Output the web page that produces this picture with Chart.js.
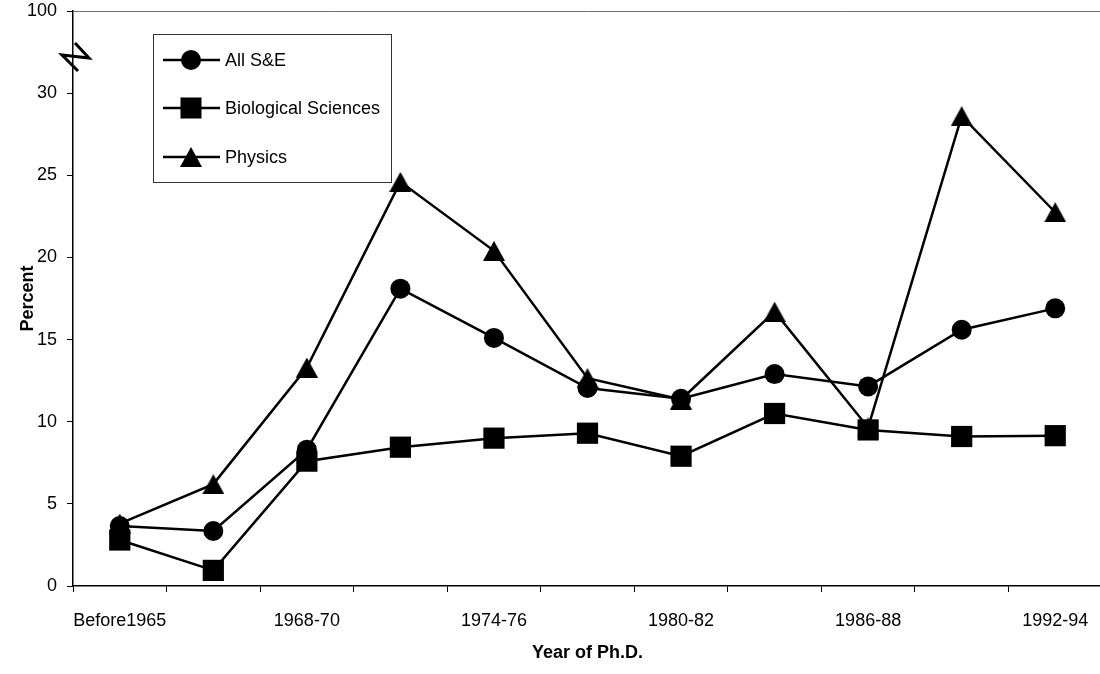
<!DOCTYPE html>
<html>
<head>
<meta charset="utf-8">
<title>Percent by Year of Ph.D.</title>
<script src="https://cdn.jsdelivr.net/npm/chart.js@4.4.0/dist/chart.umd.min.js"></script>
<style>
  html, body { margin: 0; padding: 0; overflow: hidden; background: #fff; }
  /* plot runs a little past the right edge, like the cropped original */
  #wrap { position: relative; width: 1117px; height: 678px; margin-top: -4px; }
</style>
</head>
<body>
<div id="wrap"><canvas id="phdChart"></canvas></div>
<script>
// categories
const years = ["Before1965", "1965-67", "1968-70", "1971-73", "1974-76", "1977-79",
  "1980-82", "1983-85", "1986-88", "1989-91", "1992-94"];

// series values (percent)
const allSE   = [3.65, 3.35, 8.3, 18.1, 15.1, 12.05, 11.4, 12.9, 12.15, 15.6, 16.9];
const bioSci  = [2.8, 0.95, 7.6, 8.45, 9.0, 9.3, 7.9, 10.5, 9.5, 9.1, 9.15];
const physics = [3.8, 6.2, 13.3, 24.6, 20.4, 12.65, 11.35, 16.7, 9.65, 28.6, 22.75];

// y ticks: the axis is broken above 30, the last step stands for 100
const yTicks = [0, 5, 10, 15, 20, 25, 30, 35];
const yTickLabels = ["0", "5", "10", "15", "20", "25", "30", "100"];

const FONT = '"Liberation Sans", Arial, Helvetica, sans-serif';
Chart.defaults.font.family = FONT;
Chart.defaults.font.size = 18;
Chart.defaults.color = "#000";

// triangle marker centred on its box (Excel style)
function makeTriangle(w, h) {
  const c = document.createElement("canvas");
  c.width = w;
  c.height = h;
  const g = c.getContext("2d");
  g.fillStyle = "#000";
  g.beginPath();
  g.moveTo(w / 2, 0);
  g.lineTo(w, h);
  g.lineTo(0, h);
  g.closePath();
  g.fill();
  return c;
}
const triangle = makeTriangle(22, 20);

function drawMarker(ctx, style, x, y) {
  ctx.fillStyle = "#000";
  if (style === "circle") {
    ctx.beginPath();
    ctx.arc(x, y, 10, 0, Math.PI * 2);
    ctx.fill();
  } else if (style === "rect") {
    ctx.fillRect(x - 10.5, y - 10.5, 21, 21);
  } else {
    ctx.drawImage(style, x - style.width / 2, y - style.height / 2);
  }
}

// legend box inside the plot + axis break + top frame line
const decorations = {
  id: "decorations",
  afterDraw(chart) {
    const ctx = chart.ctx;
    const area = chart.chartArea;
    const t = area.top; // legend and break are placed from the plot top
    ctx.save();

    // top frame line
    ctx.strokeStyle = "#6e6e6e";
    ctx.lineWidth = 1;
    ctx.beginPath();
    ctx.moveTo(area.left, t + 0.5);
    ctx.lineTo(area.right, t + 0.5);
    ctx.stroke();

    // axis break symbol
    ctx.strokeStyle = "#000";
    ctx.lineWidth = 3;
    ctx.lineJoin = "miter";
    ctx.beginPath();
    ctx.moveTo(area.left + 2, t + 32);
    ctx.lineTo(area.left + 16, t + 47);
    ctx.lineTo(area.left - 11, t + 44);
    ctx.lineTo(area.left + 5, t + 60);
    ctx.stroke();

    // legend
    const box = { x: 153.5, y: t + 23.5, w: 238, h: 148 };
    const rows = [t + 49, t + 97, t + 146];
    ctx.fillStyle = "#fff";
    ctx.fillRect(box.x, box.y, box.w, box.h);
    ctx.strokeStyle = "#333";
    ctx.lineWidth = 1;
    ctx.strokeRect(box.x, box.y, box.w, box.h);
    chart.data.datasets.forEach((ds, i) => {
      const y = rows[i];
      ctx.strokeStyle = "#000";
      ctx.lineWidth = 2.5;
      ctx.beginPath();
      ctx.moveTo(163, y);
      ctx.lineTo(220, y);
      ctx.stroke();
      drawMarker(ctx, ds.pointStyle, 191, y);
      ctx.fillStyle = "#000";
      ctx.font = "18px " + FONT;
      ctx.textBaseline = "middle";
      ctx.textAlign = "left";
      ctx.fillText(ds.label, 225, y + 1);
    });
    ctx.restore();
  },
};

const ctx = document.getElementById("phdChart").getContext("2d");
const phdChart = new Chart(ctx, {
  type: "line",
  data: {
    labels: years,
    datasets: [
      {
        label: "All S&E",
        data: allSE,
        borderColor: "#000",
        backgroundColor: "#000",
        borderWidth: 2.5,
        pointStyle: "circle",
        pointRadius: 10,
        pointHoverRadius: 10,
        pointBorderWidth: 0,
      },
      {
        label: "Biological Sciences",
        data: bioSci,
        borderColor: "#000",
        backgroundColor: "#000",
        borderWidth: 2.5,
        pointStyle: "rect",
        pointRadius: 15,
        pointHoverRadius: 15,
        pointBorderWidth: 0,
      },
      {
        label: "Physics",
        data: physics,
        borderColor: "#000",
        backgroundColor: "#000",
        borderWidth: 2.5,
        pointStyle: triangle,
        pointRadius: 11,
        pointHoverRadius: 11,
        pointBorderWidth: 0,
      },
    ],
  },
  options: {
    responsive: true,
    maintainAspectRatio: false,
    animation: false,
    layout: {
      padding: { top: 7, left: 0, right: 10, bottom: 0 },
    },
    scales: {
      x: {
        type: "category",
        offset: true,
        grid: {
          offset: true,
          drawOnChartArea: false,
          drawTicks: true,
          tickLength: 6,
          color: "#000",
        },
        border: { display: true, color: "#000", width: 1.5 },
        ticks: {
          autoSkip: false,
          maxRotation: 0,
          padding: 18,
          callback: function (value, index) {
            return index % 2 === 0 ? years[index] : "";
          },
        },
        title: {
          display: true,
          text: "Year of Ph.D.",
          font: { size: 18, weight: "bold" },
          padding: { top: 4, bottom: 10 },
        },
        afterFit: function (scale) {
          scale.height = 88;
        },
      },
      y: {
        min: 0,
        max: 35,
        afterBuildTicks: function (scale) {
          scale.ticks = yTicks.map((v) => ({ value: v }));
        },
        grid: {
          drawOnChartArea: false,
          drawTicks: true,
          tickLength: 6,
          color: "#000",
        },
        border: { display: true, color: "#000", width: 1.5 },
        ticks: {
          padding: 10,
          callback: function (value) {
            return yTickLabels[yTicks.indexOf(value)];
          },
        },
        title: {
          display: true,
          text: "Percent",
          font: { size: 18, weight: "bold" },
          padding: { top: 17, bottom: 0 },
        },
        afterFit: function (scale) {
          scale.width = 73;
          scale.paddingTop = 0;
          scale.paddingBottom = 0;
        },
      },
    },
    plugins: {
      legend: { display: false },
      tooltip: { enabled: false },
    },
  },
  plugins: [decorations],
});
</script>
</body>
</html>
